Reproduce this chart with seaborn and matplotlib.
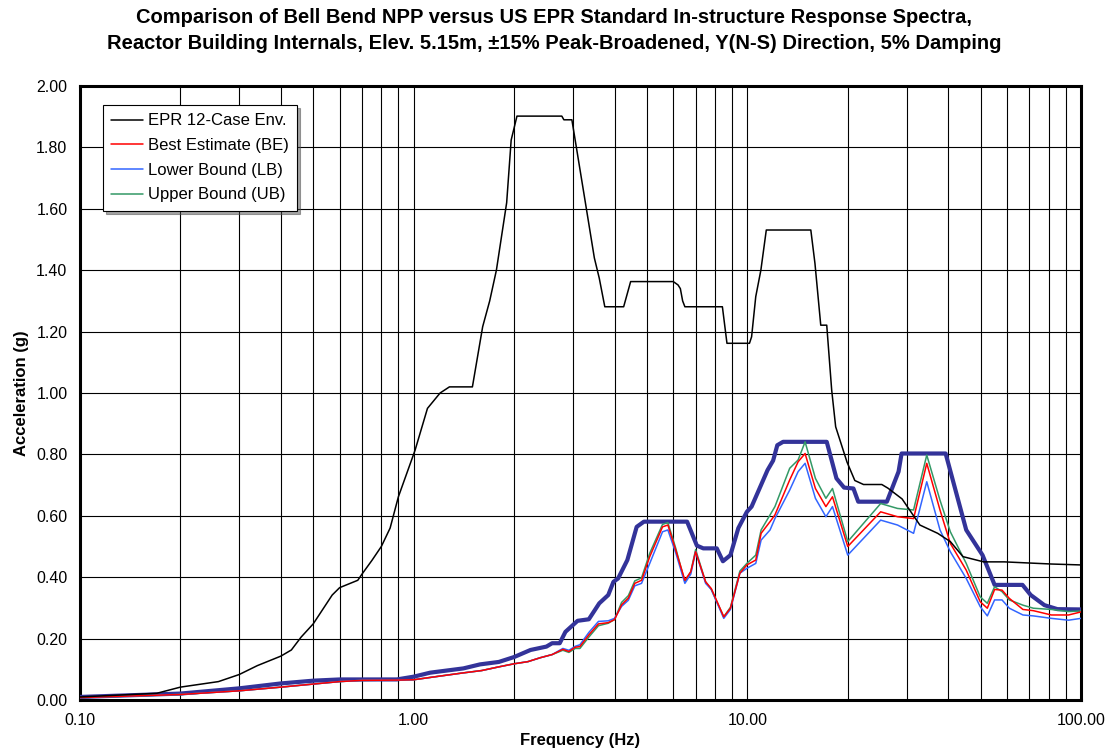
import numpy as np
import pandas as pd
import seaborn as sns
import matplotlib.pyplot as plt
from matplotlib.ticker import FixedLocator, FormatStrFormatter, LogLocator, NullFormatter

# EPR 12-case envelope
epr_f = [0.10, 0.17, 0.20, 0.26, 0.30, 0.34, 0.40, 0.43, 0.46, 0.50, 0.57, 0.60, 0.68, 0.70,
         0.75, 0.80, 0.85, 0.90, 1.01, 1.10, 1.20, 1.28, 1.50, 1.61, 1.69, 1.77, 1.90, 1.96,
         2.04, 2.78, 2.82, 2.98, 3.26, 3.48, 3.60, 3.74, 4.26, 4.47, 6.00, 6.20, 6.30, 6.40,
         6.50, 8.42, 8.69, 10.15, 10.30, 10.60, 10.98, 11.40, 15.50, 15.95, 16.60, 17.30,
         17.90, 18.40, 19.90, 21.00, 22.30, 25.30, 26.40, 29.10, 32.90, 37.20, 40.60, 44.30,
         51.10, 58.90, 81.50, 100.0]
epr_a = [0.010, 0.022, 0.042, 0.060, 0.083, 0.112, 0.143, 0.163, 0.205, 0.248, 0.342, 0.366,
         0.390, 0.410, 0.455, 0.500, 0.560, 0.662, 0.814, 0.950, 1.000, 1.020, 1.020, 1.216,
         1.300, 1.400, 1.620, 1.824, 1.902, 1.902, 1.890, 1.890, 1.630, 1.440, 1.374, 1.281,
         1.281, 1.363, 1.363, 1.352, 1.340, 1.300, 1.281, 1.281, 1.162, 1.162, 1.183, 1.314,
         1.400, 1.531, 1.531, 1.422, 1.221, 1.221, 1.010, 0.890, 0.775, 0.715, 0.702, 0.702,
         0.690, 0.655, 0.570, 0.543, 0.516, 0.467, 0.450, 0.450, 0.443, 0.440]

# Bell Bend envelope of BE/LB/UB (thick line)
env_f = [0.10, 0.20, 0.30, 0.40, 0.50, 0.60, 0.89, 1.00, 1.12, 1.41, 1.58, 1.80, 2.00, 2.24,
         2.50, 2.60, 2.74, 2.85, 3.10, 3.35, 3.60, 3.83, 3.97, 4.10, 4.37, 4.66, 4.90, 6.60,
         7.06, 7.38, 8.10, 8.45, 8.90, 9.40, 9.97, 10.30, 11.50, 11.95, 12.30, 12.80, 17.30,
         18.50, 19.50, 20.80, 21.50, 26.20, 28.40, 29.00, 39.30, 45.30, 50.70, 55.10, 66.80,
         70.70, 77.70, 85.00, 100.0]
env_a = [0.010, 0.021, 0.038, 0.054, 0.063, 0.067, 0.067, 0.076, 0.089, 0.103, 0.116, 0.124,
         0.140, 0.163, 0.174, 0.185, 0.185, 0.222, 0.258, 0.263, 0.315, 0.342, 0.385, 0.396,
         0.456, 0.564, 0.581, 0.581, 0.503, 0.494, 0.494, 0.452, 0.472, 0.560, 0.613, 0.630,
         0.749, 0.780, 0.830, 0.841, 0.841, 0.722, 0.692, 0.689, 0.646, 0.646, 0.744, 0.803,
         0.803, 0.554, 0.472, 0.375, 0.375, 0.342, 0.309, 0.296, 0.295]

# shared frequencies for BE / LB / UB
sp_f = [0.10, 0.20, 0.30, 0.40, 0.50, 0.60, 0.70, 0.90, 1.00, 1.20, 1.40, 1.60, 1.80, 2.00,
        2.20, 2.40, 2.60, 2.80, 2.92, 3.05, 3.15, 3.35, 3.58, 3.83, 4.00, 4.20, 4.40, 4.60,
        4.82, 5.10, 5.57, 5.78, 6.10, 6.50, 6.77, 7.00, 7.50, 7.80, 8.50, 8.90, 9.50, 9.97,
        10.60, 11.00, 11.70, 12.10, 13.40, 14.20, 14.90, 16.00, 17.20, 18.00, 20.00, 25.10,
        28.20, 31.50, 34.50, 37.80, 40.60, 45.30, 49.90, 52.40, 55.10, 58.00, 61.00, 67.00,
        72.00, 81.50, 91.80, 100.0]
be_a = [0.008, 0.018, 0.030, 0.042, 0.052, 0.060, 0.064, 0.065, 0.066, 0.078, 0.088, 0.096,
        0.108, 0.118, 0.125, 0.138, 0.148, 0.165, 0.158, 0.172, 0.174, 0.212, 0.248, 0.252,
        0.262, 0.310, 0.332, 0.380, 0.390, 0.467, 0.564, 0.570, 0.489, 0.390, 0.418, 0.483,
        0.385, 0.363, 0.271, 0.299, 0.413, 0.440, 0.456, 0.543, 0.581, 0.603, 0.717, 0.776,
        0.803, 0.689, 0.630, 0.662, 0.500, 0.613, 0.597, 0.591, 0.771, 0.619, 0.510, 0.423,
        0.320, 0.299, 0.360, 0.358, 0.331, 0.295, 0.291, 0.277, 0.277, 0.287]
lb_a = [0.008, 0.018, 0.030, 0.042, 0.052, 0.060, 0.064, 0.065, 0.066, 0.078, 0.088, 0.096,
        0.108, 0.118, 0.125, 0.138, 0.148, 0.168, 0.162, 0.175, 0.180, 0.220, 0.256, 0.258,
        0.266, 0.305, 0.325, 0.372, 0.380, 0.445, 0.548, 0.554, 0.480, 0.380, 0.410, 0.483,
        0.380, 0.360, 0.266, 0.295, 0.413, 0.429, 0.445, 0.521, 0.554, 0.591, 0.684, 0.744,
        0.771, 0.657, 0.597, 0.630, 0.472, 0.586, 0.570, 0.543, 0.711, 0.554, 0.483, 0.396,
        0.304, 0.274, 0.326, 0.326, 0.299, 0.277, 0.274, 0.266, 0.260, 0.266]
ub_a = [0.008, 0.018, 0.030, 0.042, 0.052, 0.060, 0.064, 0.065, 0.066, 0.078, 0.088, 0.096,
        0.108, 0.118, 0.125, 0.138, 0.148, 0.162, 0.155, 0.168, 0.168, 0.205, 0.242, 0.250,
        0.262, 0.318, 0.340, 0.388, 0.398, 0.478, 0.572, 0.578, 0.495, 0.385, 0.418, 0.490,
        0.385, 0.360, 0.271, 0.302, 0.420, 0.445, 0.472, 0.554, 0.603, 0.630, 0.755, 0.782,
        0.841, 0.722, 0.657, 0.689, 0.516, 0.640, 0.624, 0.619, 0.798, 0.651, 0.548, 0.445,
        0.336, 0.315, 0.369, 0.353, 0.326, 0.309, 0.299, 0.295, 0.288, 0.290]

sns.set_style("white")
plt.rcParams['font.family'] = ['Liberation Sans', 'DejaVu Sans']
plt.rcParams.update({'text.color': 'black', 'axes.labelcolor': 'black',
                     'xtick.color': 'black', 'ytick.color': 'black'})

fig = plt.figure(figsize=(11.08, 7.54), dpi=100)
ax = fig.add_axes([0.0722, 0.0716, 0.9034, 0.8143])

sns.lineplot(x=env_f, y=env_a, ax=ax, color='#333399', lw=3.0, label='_nolegend_',
             sort=False, estimator=None, zorder=5)
sns.lineplot(x=sp_f, y=ub_a, ax=ax, color='#339966', lw=1.1, label='Upper Bound (UB)',
             sort=False, estimator=None, zorder=6)
sns.lineplot(x=sp_f, y=lb_a, ax=ax, color='#3366FF', lw=1.1, label='Lower Bound (LB)',
             sort=False, estimator=None, zorder=6)
sns.lineplot(x=sp_f, y=be_a, ax=ax, color='#FF0000', lw=1.1, label='Best Estimate (BE)',
             sort=False, estimator=None, zorder=7)
sns.lineplot(x=epr_f, y=epr_a, ax=ax, color='black', lw=1.1, label='EPR 12-Case Env.',
             sort=False, estimator=None, zorder=8)

ax.set_xscale('log')
ax.set_xlim(0.1, 100)
ax.set_ylim(0, 2.0)
ax.xaxis.set_major_locator(FixedLocator([0.1, 1, 10, 100]))
ax.xaxis.set_major_formatter(FormatStrFormatter('%.2f'))
ax.xaxis.set_minor_locator(LogLocator(base=10, subs=np.arange(2, 10)))
ax.xaxis.set_minor_formatter(NullFormatter())
ax.yaxis.set_major_locator(FixedLocator(np.arange(0, 2.01, 0.2)))
ax.yaxis.set_major_formatter(FormatStrFormatter('%.2f'))

ax.grid(True, which='both', axis='x', color='black', lw=0.8)
ax.grid(True, which='major', axis='y', color='black', lw=0.8)
ax.tick_params(which='major', direction='out', length=4, width=1, labelsize=11.5, pad=5)
ax.tick_params(which='minor', length=0)
for s in ax.spines.values():
    s.set_linewidth(2.2)
    s.set_color('black')

ax.set_xlabel('Frequency (Hz)', fontsize=12, fontweight='bold', labelpad=4)
ax.set_ylabel('Acceleration (g)', fontsize=12, fontweight='bold', labelpad=5)
fig.suptitle('Comparison of Bell Bend NPP versus US EPR Standard In-structure Response Spectra,\n'
             'Reactor Building Internals, Elev. 5.15m, \u00b115% Peak-Broadened, Y(N-S) Direction, 5% Damping',
             fontsize=14.5, fontweight='bold', y=0.99, linespacing=1.5)

h, l = ax.get_legend_handles_labels()
order = ['EPR 12-Case Env.', 'Best Estimate (BE)', 'Lower Bound (LB)', 'Upper Bound (UB)']
hd = dict(zip(l, h))
leg = ax.legend([hd[k] for k in order], order, loc='upper left', bbox_to_anchor=(0.023, 0.969),
                borderaxespad=0, fontsize=12, frameon=True, fancybox=False, shadow=True,
                borderpad=0.5, handlelength=1.9, labelspacing=0.58, handletextpad=0.3)
leg.get_frame().set_edgecolor('black')
leg.get_frame().set_linewidth(0.8)
leg.set_zorder(20)

fig.savefig('out.png', dpi=100)
